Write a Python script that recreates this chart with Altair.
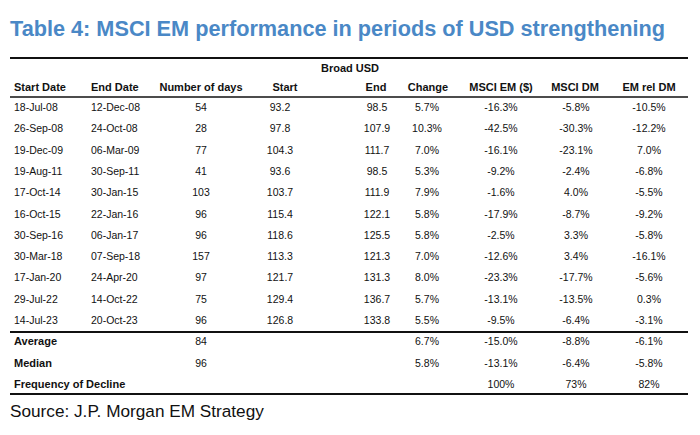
import altair as alt
import pandas as pd

TITLE = "Table 4: MSCI EM performance in periods of USD strengthening"
SOURCE = "Source: J.P. Morgan EM Strategy"
GROUP_HEADER = "Broad USD"
HEADERS = ["Start Date", "End Date", "Number of days", "Start", "End",
           "Change", "MSCI EM ($)", "MSCI DM", "EM rel DM"]

start_dates = ["18-Jul-08", "26-Sep-08", "19-Dec-09", "19-Aug-11", "17-Oct-14", "16-Oct-15",
               "30-Sep-16", "30-Mar-18", "17-Jan-20", "29-Jul-22", "14-Jul-23"]
end_dates = ["12-Dec-08", "24-Oct-08", "06-Mar-09", "30-Sep-11", "30-Jan-15", "22-Jan-16",
             "06-Jan-17", "07-Sep-18", "24-Apr-20", "14-Oct-22", "20-Oct-23"]
num_days = [54, 28, 77, 41, 103, 96, 96, 157, 97, 75, 96]
usd_start = [93.2, 97.8, 104.3, 93.6, 103.7, 115.4, 118.6, 113.3, 121.7, 129.4, 126.8]
usd_end = [98.5, 107.9, 111.7, 98.5, 111.9, 122.1, 125.5, 121.3, 131.3, 136.7, 133.8]
usd_change = [5.7, 10.3, 7.0, 5.3, 7.9, 5.8, 5.8, 7.0, 8.0, 5.7, 5.5]
msci_em = [-16.3, -42.5, -16.1, -9.2, -1.6, -17.9, -2.5, -12.6, -23.3, -13.1, -9.5]
msci_dm = [-5.8, -30.3, -23.1, -2.4, 4.0, -8.7, 3.3, 3.4, -17.7, -13.5, -6.4]
em_rel_dm = [-10.5, -12.2, 7.0, -6.8, -5.5, -9.2, -5.8, -16.1, -5.6, 0.3, -3.1]

summary_labels = ["Average", "Median", "Frequency of Decline"]
summary_days = [84, 96]
summary_change = [6.7, 5.8]
summary_em = [-15.0, -13.1]
summary_dm = [-8.8, -6.4]
summary_rel = [-6.1, -5.8]
freq_decline = [100, 73, 82]  # MSCI EM, MSCI DM, EM rel DM

# ---------- build cell table ----------
def pct(v):
    return f"{v:.1f}%"

rows = []
n = len(start_dates)
for i in range(n):
    rows += [
        ("sd", i, start_dates[i]), ("ed", i, end_dates[i]), ("nd", i, str(num_days[i])),
        ("st", i, f"{usd_start[i]:.1f}"), ("en", i, f"{usd_end[i]:.1f}"),
        ("ch", i, pct(usd_change[i])), ("em", i, pct(msci_em[i])),
        ("dm", i, pct(msci_dm[i])), ("rel", i, pct(em_rel_dm[i])),
    ]
for j in range(2):
    r = n + j
    rows += [("nd", r, str(summary_days[j])), ("ch", r, pct(summary_change[j])),
             ("em", r, pct(summary_em[j])), ("dm", r, pct(summary_dm[j])),
             ("rel", r, pct(summary_rel[j]))]
for k, key in enumerate(["em", "dm", "rel"]):
    rows.append((key, n + 2, f"{freq_decline[k]}%"))
cells = pd.DataFrame(rows, columns=["col", "row", "text"])
labels = pd.DataFrame({"row": [n, n + 1, n + 2], "text": summary_labels})

# ---------- layout ----------
W, H = 684, 419
FONT = "Liberation Sans, Arial, sans-serif"
INK = "#111111"
COL_X = {"sd": 6, "ed": 83, "nd": 193, "st": 272, "en": 369, "ch": 419,
         "em": 493, "dm": 568, "rel": 641}
HEAD_X = {"sd": 6, "ed": 83, "nd": 193, "st": 277, "en": 368, "ch": 420,
          "em": 493, "dm": 567, "rel": 641}
LEFT = {"sd", "ed"}
ROW0, STEP = 100.0, 21.3
yscale = alt.Scale(domain=[-ROW0 / STEP, -ROW0 / STEP + H / STEP], range=[0, H])
Y = alt.Y("row:Q", scale=yscale, axis=None)

layers = []
for key, x in COL_X.items():
    layers.append(
        alt.Chart(cells).transform_filter(alt.datum.col == key)
        .mark_text(align="left" if key in LEFT else "center", baseline="middle",
                   font=FONT, fontSize=10.5, color=INK)
        .encode(x=alt.value(x), y=Y, text="text:N")
    )
layers.append(
    alt.Chart(labels).mark_text(align="left", baseline="middle", font=FONT,
                                fontSize=11, fontWeight="bold", color=INK)
    .encode(x=alt.value(6), y=Y, text="text:N")
)
for key, h in zip(COL_X.keys(), HEADERS):
    layers.append(
        alt.Chart(pd.DataFrame({"t": [h]}))
        .mark_text(align="left" if key in LEFT else "center", baseline="middle",
                   font=FONT, fontSize=11, fontWeight="bold", color=INK)
        .encode(x=alt.value(HEAD_X[key]), y=alt.value(80), text="t:N")
    )
layers.append(
    alt.Chart(pd.DataFrame({"t": [GROUP_HEADER]}))
    .mark_text(align="center", baseline="middle", font=FONT, fontSize=11,
               fontWeight="bold", color=INK)
    .encode(x=alt.value(342), y=alt.value(61), text="t:N")
)
layers.append(
    alt.Chart(pd.DataFrame({"t": [TITLE]}))
    .mark_text(align="left", baseline="alphabetic", font=FONT, fontSize=21.7,
               fontWeight="bold", color="#4a88c6")
    .encode(x=alt.value(2), y=alt.value(28), text="t:N")
)
layers.append(
    alt.Chart(pd.DataFrame({"t": [SOURCE]}))
    .mark_text(align="left", baseline="alphabetic", font=FONT, fontSize=17.2,
               color=INK)
    .encode(x=alt.value(2), y=alt.value(409), text="t:N")
)
for yv, sw in [(50, 2), (89, 1.5), (324, 2), (386, 2)]:
    layers.append(
        alt.Chart(pd.DataFrame({"a": [0]})).mark_rule(color=INK, strokeWidth=sw)
        .encode(x=alt.value(2), x2=alt.value(680), y=alt.value(yv))
    )

chart = (
    alt.layer(*layers)
    .properties(width=W, height=H, autosize=alt.AutoSizeParams(type="none"), padding=0)
    .configure_view(strokeWidth=0)
)
chart.save("out.html", embed_options={"renderer": "svg", "actions": False})
